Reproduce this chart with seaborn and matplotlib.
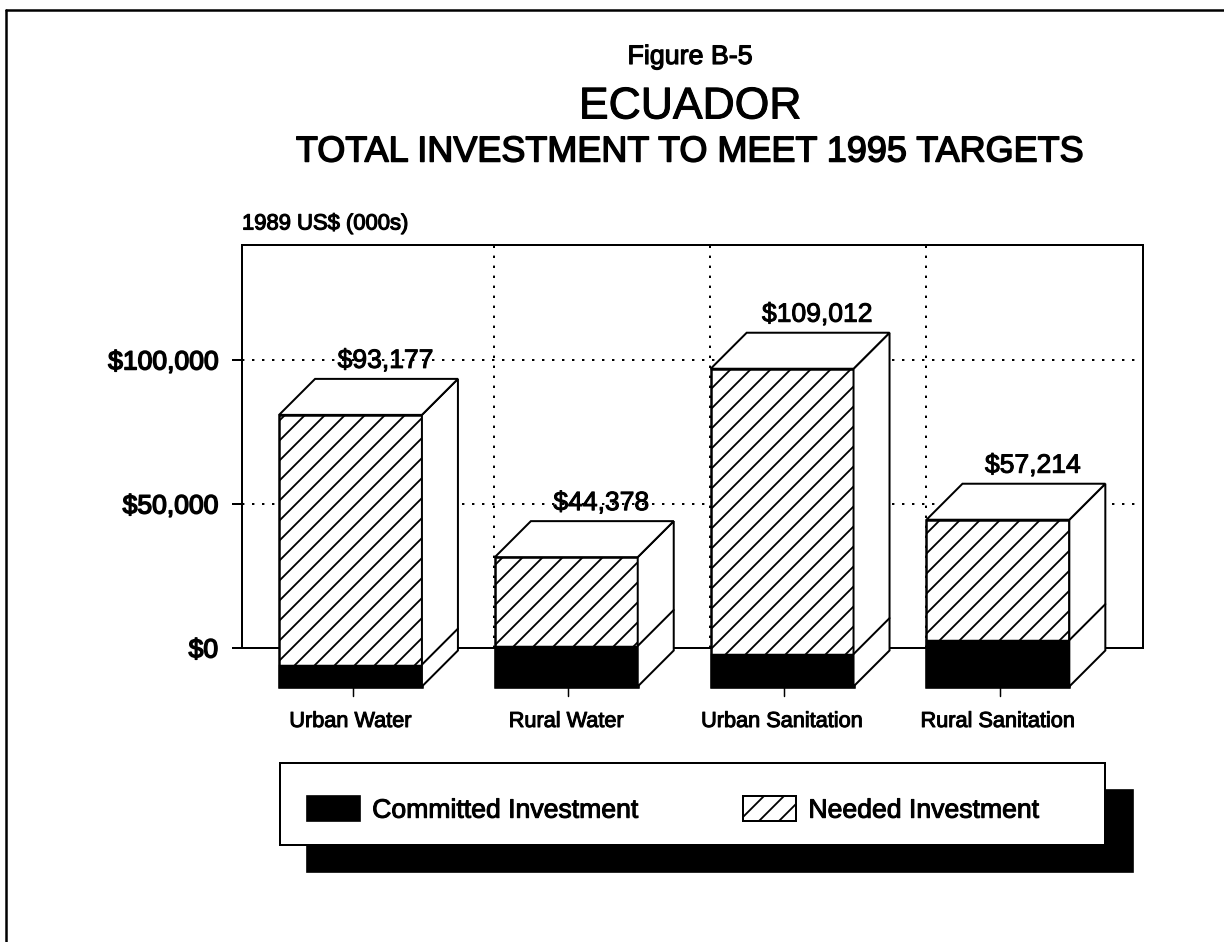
import matplotlib
matplotlib.use('Agg')
import matplotlib.pyplot as plt
import matplotlib.patheffects as pe
from matplotlib.patches import Patch, Polygon, Rectangle
from matplotlib.lines import Line2D
import pandas as pd
import seaborn as sns

categories = ['Urban Water', 'Rural Water', 'Urban Sanitation', 'Rural Sanitation']
total = [93.177, 44.378, 109.012, 57.214]
committed = [7.5, 13.9, 11.1, 15.9]
value_labels = ['$93,177', '$44,378', '$109,012', '$57,214']
tick_values = [0, 50, 100]
tick_labels = ['$0', '$50,000', '$100,000']

sns.set_theme(style='white')
plt.rcParams['font.family'] = ['Liberation Sans', 'DejaVu Sans']
plt.rcParams['hatch.linewidth'] = 1.1

# dpi 120 makes the hatch spacing come out like the scan (20 px)
W, H = 1224, 942
DPI = 120
PT = 72 / DPI
fig = plt.figure(figsize=(W / DPI, H / DPI), dpi=DPI, facecolor='white')

L, R, T, B = 242, 1143, 245, 648
ax = fig.add_axes([L / W, 1 - B / H, (R - L) / W, (B - T) / H])

# scale of the picture: front faces stand on y=0, the back wall floor is higher
px_x = 215.8
px_y = 2.915
base = 686.5
floor = (base - B) / px_y
wall = 2.88 / px_y  # the wall scale is a bit flatter than the front faces
bar_w = 0.662
dx = 36 / px_x
dy = 36 / px_y

thick = [pe.withStroke(linewidth=0.6, foreground='black')]

df = pd.DataFrame({'category': categories, 'total': total, 'committed': committed})
sns.barplot(data=df, x='category', y='total', color='white', edgecolor='black',
            linewidth=2.5 * PT, hatch='//', width=bar_w, saturation=1, ax=ax)
sns.barplot(data=df, x='category', y='committed', color='black', edgecolor='black',
            linewidth=1.5 * PT, width=bar_w, saturation=1, ax=ax)
for p in ax.patches:
    p.set_clip_on(False)
    p.set_zorder(2)

for i, (t, c) in enumerate(zip(total, committed)):
    x0, x1 = i - bar_w / 2, i + bar_w / 2
    side = [(x1, 0), (x1 + dx, dy), (x1 + dx, t + dy), (x1, t)]
    top = [(x0, t), (x0 + dx, t + dy), (x1 + dx, t + dy), (x1, t)]
    for verts in (side, top):
        ax.add_patch(Polygon(verts, closed=True, facecolor='white', edgecolor='black',
                             linewidth=2 * PT, clip_on=False, zorder=2))
    ax.plot([x1, x1 + dx], [c, c + dy], color='black', lw=2 * PT, clip_on=False, zorder=3)
    ax.plot([i + 0.01, i + 0.01], [0, -3.4], color='black', lw=1.5 * PT, clip_on=False, zorder=1)
    ax.annotate(value_labels[i], xy=(i, t), xytext=(35 * PT, 54 * PT), textcoords='offset points',
                ha='center', va='center', fontsize=26.5 * PT, color='black', zorder=4,
                path_effects=thick)

ax.set_xlim((L - 350.5) / px_x, (R - 350.5) / px_x)
ax.set_ylim(floor, (base - T) / px_y)
ax.set_xlabel('')
ax.set_ylabel('')

tick_pos = [floor + v * wall for v in tick_values]
ax.set_yticks(tick_pos, tick_labels)
ax.set_xticks(range(len(categories)), categories)
ax.tick_params(axis='y', left=True, length=10 * PT, width=2 * PT, pad=14 * PT,
               labelsize=26.5 * PT, color='black', labelcolor='black')
ax.tick_params(axis='x', bottom=False, pad=53 * PT, labelsize=21.7 * PT, labelcolor='black')
for lab in ax.get_yticklabels():
    lab.set_path_effects([pe.withStroke(linewidth=0.9, foreground='black')])
for lab in ax.get_xticklabels():
    lab.set_path_effects(thick)

# dotted grid on the back wall
for y in tick_pos[1:]:
    ax.axhline(y, color='black', lw=2 * PT, ls=(0, (1.2, 3.8)), zorder=0.5)
for x in [0.665, 1.665, 2.665]:
    ax.axvline(x, color='black', lw=2 * PT, ls=(0, (1.2, 3.8)), zorder=0.5)

for s in ax.spines.values():
    s.set_visible(True)
    s.set_color('black')
    s.set_linewidth(2 * PT)
    s.set_zorder(1)


def fx(px):
    return px / W


def fy(px):
    return 1 - px / H


fig.text(fx(690), fy(57), 'Figure B-5', ha='center', va='center', fontsize=26.8 * PT,
         path_effects=[pe.withStroke(linewidth=0.7, foreground='black')], color='black')
fig.text(fx(690), fy(107), 'ECUADOR', ha='center', va='center', fontsize=44.5 * PT, color='black',
         path_effects=thick)
fig.text(fx(690), fy(152), 'TOTAL INVESTMENT TO MEET 1995 TARGETS', ha='center', va='center',
         fontsize=36 * PT, color='black', path_effects=[pe.withStroke(linewidth=0.9, foreground='black')])
fig.text(fx(242), fy(224), '1989 US$ (000s)', ha='left', va='center', fontsize=22 * PT, color='black',
         path_effects=[pe.withStroke(linewidth=0.7, foreground='black')])

# legend panel with its drop shadow
fig.add_artist(Rectangle((fx(307), fy(872)), fx(826), 82 / H, transform=fig.transFigure,
                         facecolor='black', edgecolor='black', zorder=2))
fig.add_artist(Rectangle((fx(280), fy(845)), fx(825), 82 / H, transform=fig.transFigure,
                         facecolor='white', edgecolor='black', linewidth=2 * PT, zorder=3))
handles = [Patch(facecolor='black', edgecolor='black', label='Committed Investment'),
           Patch(facecolor='white', edgecolor='black', linewidth=2 * PT, hatch='//', label='Needed Investment')]
leg = fig.legend(handles=handles, ncols=2, loc='center left', bbox_to_anchor=(fx(307), fy(810)),
                 frameon=False, fontsize=26.6 * PT, handlelength=2.0, handleheight=1.05,
                 handletextpad=0.45, columnspacing=3.94, borderpad=0, borderaxespad=0)
leg.set_zorder(4)
for txt in leg.get_texts():
    txt.set_color('black')
    txt.set_path_effects(thick)

# page border of the scan, top and left only
fig.add_artist(Line2D([fx(6), 1], [fy(10), fy(10)], color='black', lw=2.5 * PT))
fig.add_artist(Line2D([fx(6), fx(6)], [fy(10), 0], color='black', lw=2.5 * PT))

fig.savefig('out.png', dpi=DPI)
